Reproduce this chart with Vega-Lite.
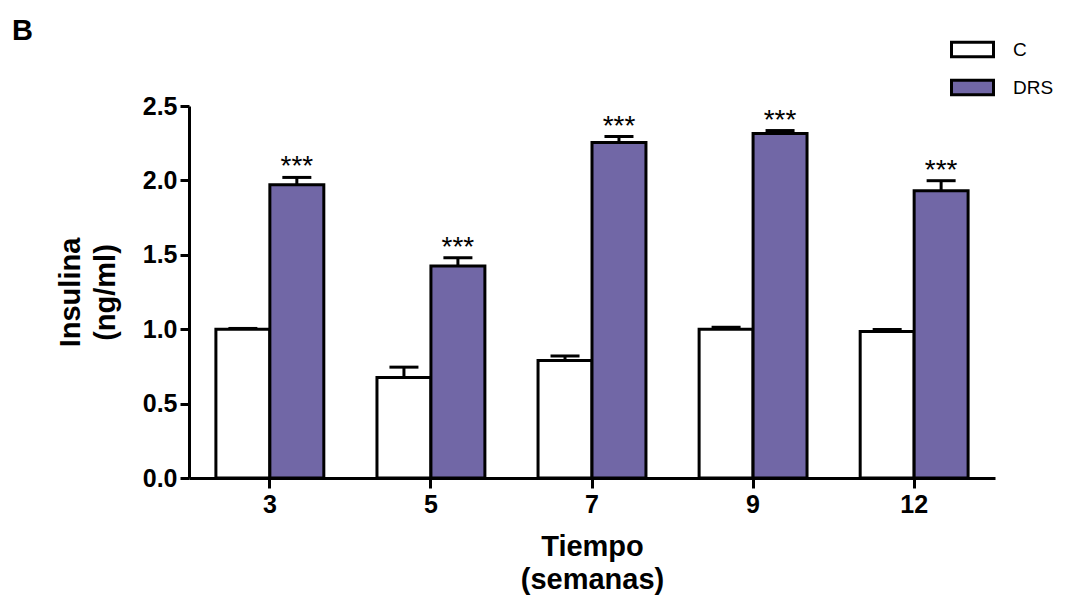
{
  "$schema": "https://vega.github.io/schema/vega-lite/v6.json",
  "width": 806,
  "height": 372,
  "autosize": {"type": "none"},
  "padding": {"left": 189, "top": 106, "right": 88, "bottom": 138},
  "background": "white",
  "config": {"font": "Liberation Sans", "view": {"stroke": null}},
  "title": {"text": "B", "anchor": "start", "frame": "group", "fontSize": 29, "fontWeight": "bold", "color": "black", "dx": -177, "offset": -42, "baseline": "alphabetic"},
  "data": {
    "values": [
      {"week": "3", "group": "C", "value": 1.0, "upper": 1.005, "sig": ""},
      {"week": "3", "group": "DRS", "value": 1.97, "upper": 2.02, "sig": "***"},
      {"week": "5", "group": "C", "value": 0.675, "upper": 0.745, "sig": ""},
      {"week": "5", "group": "DRS", "value": 1.425, "upper": 1.48, "sig": "***"},
      {"week": "7", "group": "C", "value": 0.79, "upper": 0.82, "sig": ""},
      {"week": "7", "group": "DRS", "value": 2.255, "upper": 2.295, "sig": "***"},
      {"week": "9", "group": "C", "value": 1.0, "upper": 1.013, "sig": ""},
      {"week": "9", "group": "DRS", "value": 2.315, "upper": 2.335, "sig": "***"},
      {"week": "12", "group": "C", "value": 0.985, "upper": 0.998, "sig": ""},
      {"week": "12", "group": "DRS", "value": 1.93, "upper": 1.998, "sig": "***"}
    ]
  },
  "encoding": {
    "x": {
      "field": "week", "type": "nominal", "sort": ["3", "5", "7", "9", "12"],
      "scale": {"paddingInner": 0.33, "paddingOuter": 0.167},
      "axis": {
        "title": ["Tiempo", "(semanas)"], "titleFontSize": 29, "titleFontWeight": "bold", "titleColor": "black", "titleLineHeight": 33, "titlePadding": 15,
        "labelFontSize": 25, "labelFontWeight": "bold", "labelColor": "black", "labelAngle": 0, "labelPadding": 4,
        "tickSize": 10, "tickWidth": 3, "tickColor": "black", "domainWidth": 3, "domainColor": "black"
      }
    },
    "xOffset": {"field": "group", "type": "nominal", "sort": ["C", "DRS"], "scale": {"paddingInner": 0, "paddingOuter": 0}}
  },
  "layer": [
    {
      "mark": {"type": "bar", "stroke": "black", "strokeWidth": 3},
      "encoding": {
        "y": {
          "field": "value", "type": "quantitative",
          "scale": {"domain": [0, 2.5], "nice": false},
          "axis": {
            "title": ["Insulina", "(ng/ml)"], "titleFontSize": 29, "titleFontWeight": "bold", "titleColor": "black", "titleLineHeight": 35, "titlePadding": 22,
            "values": [0, 0.5, 1, 1.5, 2, 2.5], "format": ".1f", "grid": false,
            "labelFontSize": 25, "labelFontWeight": "bold", "labelColor": "black", "labelPadding": 3,
            "tickSize": 9, "tickWidth": 3, "tickColor": "black", "domainWidth": 3, "domainColor": "black"
          }
        },
        "color": {
          "field": "group", "type": "nominal",
          "scale": {"domain": ["C", "DRS"], "range": ["white", "#7167a6"]},
          "legend": {
            "title": null, "orient": "none", "legendX": 761, "legendY": -79, "padding": 0,
            "symbolType": "M-1,-0.35H1V0.35H-1Z", "symbolSize": 1764, "symbolStrokeColor": "black", "symbolStrokeWidth": 3,
            "labelFontSize": 19, "labelColor": "black", "labelOffset": 18, "rowPadding": 2
          }
        }
      }
    },
    {
      "mark": {"type": "rule", "strokeWidth": 3, "color": "black"},
      "encoding": {
        "y": {"field": "value", "type": "quantitative"},
        "y2": {"field": "upper"}
      }
    },
    {
      "mark": {"type": "tick", "thickness": 3, "size": 29, "color": "black", "opacity": 1},
      "encoding": {
        "y": {"field": "upper", "type": "quantitative"}
      }
    },
    {
      "mark": {"type": "text", "fontSize": 28, "baseline": "alphabetic", "dy": -2, "color": "black"},
      "encoding": {
        "y": {"field": "upper", "type": "quantitative"},
        "text": {"field": "sig"}
      }
    }
  ]
}
